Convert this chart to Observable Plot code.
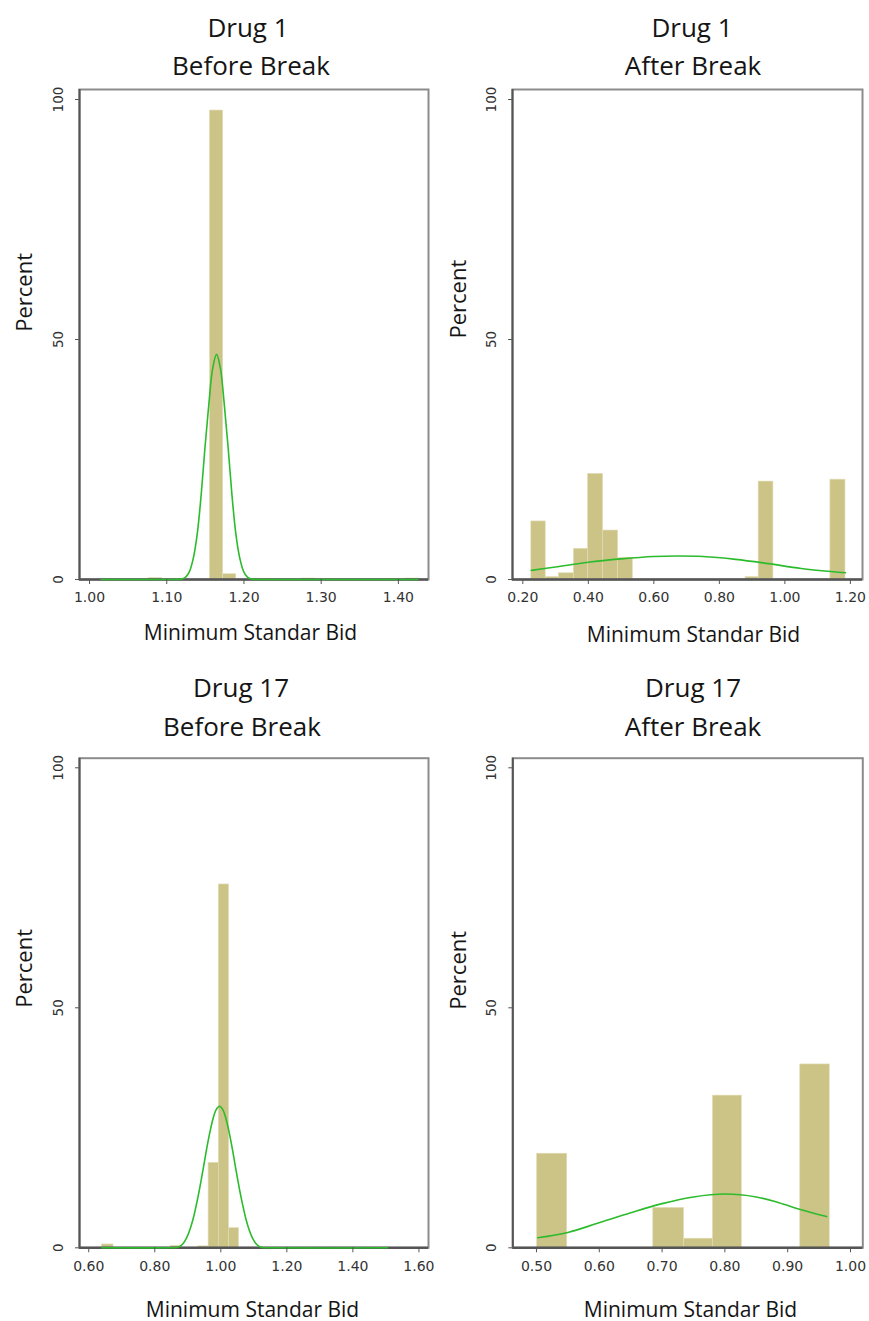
<!DOCTYPE html>
<html><head><meta charset="utf-8">
<script src="https://cdn.jsdelivr.net/npm/d3@7"></script>
<script src="https://cdn.jsdelivr.net/npm/@observablehq/plot@0.6"></script>
<style>
html,body{margin:0;padding:0;background:#fff}
body{width:869px;height:1321px;position:relative;overflow:hidden;font-family:"Open Sans",sans-serif}
.svgbox{position:absolute}
.title{position:absolute;color:#151515;font-size:26px;line-height:1;white-space:nowrap;transform:translate(-50%,-50%);font-family:"Open Sans",sans-serif}
</style></head><body>
<script>
// ---------- DATA ----------
const drugLabels = ["Drug 1", "Drug 1", "Drug 17", "Drug 17"];
const periodLabels = ["Before Break", "After Break", "Before Break", "After Break"];
const xAxisTitle = "Minimum Standar Bid";
const yAxisTitle = "Percent";
const yTicks = [0, 50, 100];

// Drug 1, before break
const xTicks1 = [1.00, 1.10, 1.20, 1.30, 1.40];
const binStart1 = [1.077, 1.156, 1.173, 1.275, 1.410];
const binEnd1   = [1.094, 1.173, 1.190, 1.292, 1.427];
const pct1      = [0.3, 97.7, 1.1, 0.2, 0.2];
const curveX1 = [1.015, 1.100, 1.1145, 1.1195, 1.1245, 1.1295, 1.1345, 1.1395, 1.1445, 1.1495, 1.1545, 1.1595, 1.1645, 1.1695, 1.1745, 1.1795, 1.1845, 1.1895, 1.1945, 1.1995, 1.2045, 1.2095, 1.2145, 1.229, 1.425];
const curveY1 = [0, 0, 0.02, 0.1, 0.5, 1.7, 4.5, 9.5, 17.5, 27.5, 36.5, 44, 46.9, 44, 36.5, 27.5, 17.5, 9.5, 4.5, 1.7, 0.5, 0.1, 0.02, 0, 0];

// Drug 1, after break
const xTicks2 = [0.20, 0.40, 0.60, 0.80, 1.00, 1.20];
const binStart2 = [0.226, 0.270, 0.310, 0.356, 0.399, 0.445, 0.491, 0.880, 0.920, 1.139];
const binEnd2   = [0.270, 0.310, 0.356, 0.399, 0.445, 0.491, 0.536, 0.920, 0.965, 1.185];
const pct2      = [12.1, 0.5, 1.3, 6.4, 22.0, 10.2, 4.5, 0.5, 20.4, 20.8];
const curveX2 = [0.226, 0.30, 0.40, 0.50, 0.60, 0.67, 0.75, 0.85, 0.95, 1.05, 1.185];
const curveY2 = [1.9, 2.6, 3.6, 4.3, 4.8, 4.9, 4.8, 4.2, 3.3, 2.3, 1.4];

// Drug 17, before break
const xTicks3 = [0.60, 0.80, 1.00, 1.20, 1.40, 1.60];
const binStart3 = [0.640, 0.848, 0.932, 0.963, 0.994, 1.025];
const binEnd3   = [0.675, 0.882, 0.963, 0.994, 1.025, 1.055];
const pct3      = [0.7, 0.4, 0.3, 17.7, 75.7, 4.1];
const curveX3 = [0.640, 0.850, 0.866, 0.876, 0.886, 0.896, 0.906, 0.916, 0.926, 0.936, 0.946, 0.956, 0.966, 0.976, 0.986, 0.996, 1.006, 1.016, 1.026, 1.036, 1.046, 1.056, 1.066, 1.076, 1.086, 1.096, 1.106, 1.116, 1.126, 1.142, 1.505];
const curveY3 = [0, 0, 0.05, 0.3, 0.9, 2.0, 3.7, 6.0, 9.0, 12.4, 16.2, 20.2, 23.8, 26.8, 28.8, 29.5, 28.8, 26.8, 23.8, 20.2, 16.2, 12.4, 9.0, 6.0, 3.7, 2.0, 0.9, 0.3, 0.05, 0, 0];

// Drug 17, after break
const xTicks4 = [0.50, 0.60, 0.70, 0.80, 0.90, 1.00];
const binStart4 = [0.501, 0.686, 0.735, 0.781, 0.920];
const binEnd4   = [0.549, 0.735, 0.781, 0.827, 0.967];
const pct4      = [19.6, 8.3, 1.9, 31.7, 38.2];
const curveX4 = [0.502, 0.55, 0.597, 0.65, 0.70, 0.75, 0.80, 0.85, 0.886, 0.92, 0.962];
const curveY4 = [2.1, 3.2, 5.1, 7.3, 9.2, 10.6, 11.2, 10.6, 9.4, 8.0, 6.5];

// ---------- LAYOUT ----------
const layout = [
  {svgLeft:0, svgTop:80, width:435, height:580, frameLeft:79, frameRight:428, frameTop:89, zeroY:579, hundredY:99,
   xDomain:[0.987, 1.439], titleX:[248, 251], titleY:[27, 65], percentY:51.6, percentDx:-55, xTitleX:250, xTitleDy:54,
   xTicks:xTicks1, binStart:binStart1, binEnd:binEnd1, pct:pct1, curveX:curveX1, curveY:curveY1, curve:"catmull-rom"},
  {svgLeft:435, svgTop:80, width:434, height:580, frameLeft:512, frameRight:862, frameTop:89, zeroY:579, hundredY:99,
   xDomain:[0.1685, 1.237], titleX:[692, 693], titleY:[27, 65], percentY:50.2, percentDx:-54, xTitleX:693, xTitleDy:56,
   xTicks:xTicks2, binStart:binStart2, binEnd:binEnd2, pct:pct2, curveX:curveX2, curveY:curveY2, curve:"catmull-rom"},
  {svgLeft:0, svgTop:745, width:435, height:576, frameLeft:79, frameRight:428, frameTop:757.7, zeroY:1247.3, hundredY:767.3,
   xDomain:[0.572, 1.629], titleX:[241, 242], titleY:[687, 726], percentY:50, percentDx:-55, xTitleX:252, xTitleDy:62,
   xTicks:xTicks3, binStart:binStart3, binEnd:binEnd3, pct:pct3, curveX:curveX3, curveY:curveY3, curve:"catmull-rom"},
  {svgLeft:435, svgTop:745, width:434, height:576, frameLeft:512.3, frameRight:862.3, frameTop:757.7, zeroY:1247.3, hundredY:767.3,
   xDomain:[0.4623, 1.0196], titleX:[693, 693], titleY:[687, 726], percentY:49.6, percentDx:-54, xTitleX:690, xTitleDy:62,
   xTicks:xTicks4, binStart:binStart4, binEnd:binEnd4, pct:pct4, curveX:curveX4, curveY:curveY4, curve:"catmull-rom"}
];

const barFill = "#ccc487";
const curveColor = "#2cbb2c";

layout.forEach((cfg, k) => {
  const bars = cfg.binStart.map((s, i) => ({x1: s, x2: cfg.binEnd[i], y: cfg.pct[i]}));
  const curve = cfg.curveX.map((x, i) => ({x, y: cfg.curveY[i]}));
  const ml = cfg.frameLeft - cfg.svgLeft;
  const mr = cfg.svgLeft + cfg.width - cfg.frameRight;
  const mt = cfg.frameTop - cfg.svgTop;
  const mb = cfg.svgTop + cfg.height - cfg.zeroY;
  const yMax = 100 * (cfg.zeroY - cfg.frameTop) / (cfg.zeroY - cfg.hundredY);
  const frameCenter = (cfg.frameLeft + cfg.frameRight) / 2;

  const svg = Plot.plot({
    width: cfg.width, height: cfg.height,
    marginLeft: ml, marginRight: mr, marginTop: mt, marginBottom: mb,
    style: {background: "transparent", overflow: "visible", color: "#333"},
    x: {domain: cfg.xDomain},
    y: {domain: [0, yMax]},
    marks: [
      Plot.rect(bars, {x1: "x1", x2: "x2", y1: 0, y2: "y", fill: barFill, stroke: "#e2ddb6", strokeWidth: 0.6}),
      Plot.frame({stroke: "#8c8c8c", strokeWidth: 2}),
      Plot.ruleX([cfg.xDomain[0]], {stroke: "#555", strokeWidth: 2}),
      Plot.ruleY([0], {stroke: "#555", strokeWidth: 2.5}),
      Plot.line(curve, {x: "x", y: "y", stroke: curveColor, strokeWidth: 1.6, curve: cfg.curve}),
      Plot.axisX({ticks: cfg.xTicks, tickFormat: d3.format(".2f"), tickSize: 5, tickPadding: 8, fontSize: 14, fontFamily: "DejaVu Sans", label: null, stroke: "#555"}),
      Plot.axisY({ticks: yTicks, tickSize: 4, tickRotate: -90, tickPadding: 13, fontSize: 13.5, fontFamily: "DejaVu Sans", label: null, stroke: "#555"}),
      Plot.text([cfg.percentY], {y: d => d, frameAnchor: "left", text: () => yAxisTitle, rotate: -90, dx: cfg.percentDx, fontSize: 22, fontFamily: "Open Sans", fill: "#151515", lineAnchor: "middle"}),
      Plot.text([xAxisTitle], {frameAnchor: "bottom", dx: cfg.xTitleX - frameCenter, dy: cfg.xTitleDy, fontSize: 21, fontFamily: "Open Sans", fill: "#151515", lineAnchor: "middle"})
    ]
  });
  const box = document.createElement("div");
  box.className = "svgbox";
  box.style.left = cfg.svgLeft + "px";
  box.style.top = cfg.svgTop + "px";
  box.appendChild(svg);
  document.body.appendChild(box);

  [drugLabels[k], periodLabels[k]].forEach((t, j) => {
    const d = document.createElement("div");
    d.className = "title";
    d.textContent = t;
    d.style.left = cfg.titleX[j] + "px";
    d.style.top = cfg.titleY[j] + "px";
    document.body.appendChild(d);
  });
});
</script>
</body></html>
